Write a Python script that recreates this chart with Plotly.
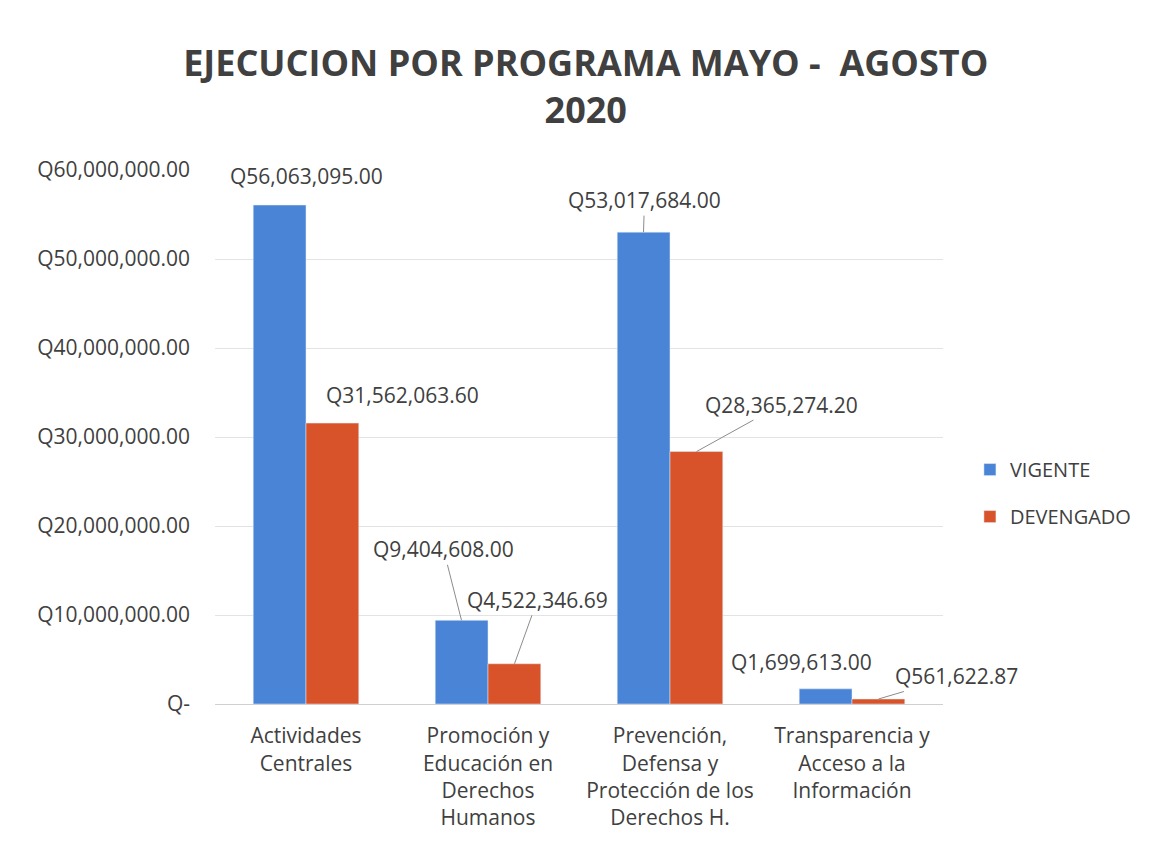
import plotly.graph_objects as go

categories = ["Actividades<br>Centrales",
              "Promoción y<br>Educación en<br>Derechos<br>Humanos",
              "Prevención,<br>Defensa y<br>Protección de los<br>Derechos H.",
              "Transparencia y<br>Acceso a la<br>Información"]
vigente = [56063095.00, 9404608.00, 53017684.00, 1699613.00]
devengado = [31562063.60, 4522346.69, 28365274.20, 561622.87]
ytick_vals = [0, 10e6, 20e6, 30e6, 40e6, 50e6, 60e6]
ytick_text = ["Q-", "Q10,000,000.00", "Q20,000,000.00", "Q30,000,000.00",
              "Q40,000,000.00", "Q50,000,000.00", "Q60,000,000.00"]

BLUE = "#4A84D6"
ORANGE = "#D9532A"
TXT = "#404040"
FONT = "Open Sans"

def qfmt(v):
    return "Q{:,.2f}".format(v)

fig = go.Figure()
fig.add_trace(go.Bar(x=categories, y=vigente, name="VIGENTE", marker_color=BLUE,
                     legendgroup="a"))
fig.add_trace(go.Bar(x=categories, y=devengado, name="DEVENGADO", marker_color=ORANGE,
                     legendgroup="b"))

# label offsets (pixels): (series, index, ax, ay, show leader)
label_specs = [
    (0, 0, 27, -29, False),
    (1, 0, 70, -28, False),
    (0, 1, -18, -71, True),
    (1, 1, 23, -64, True),
    (0, 2, 1, -32, True),
    (1, 2, 85, -47, True),
    (0, 3, -24, -27, False),
    (1, 3, 78, -23, True),
]
series = [vigente, devengado]
BARW = 26.5
for s, i, ax, ay, lead in label_specs:
    shift = -BARW if s == 0 else BARW
    fig.add_annotation(x=categories[i], y=series[s][i], xref="x", yref="y",
                       text=qfmt(series[s][i]), showarrow=lead,
                       ax=ax, ay=ay, arrowhead=0, arrowwidth=1, arrowcolor="#8C8C8C",
                       xshift=shift + (0 if lead else ax), yshift=(0 if lead else -ay),
                       font=dict(size=21, color=TXT, family=FONT))

fig.update_layout(
    width=1144, height=839,
    paper_bgcolor="white", plot_bgcolor="white",
    margin=dict(l=207, r=209, t=162, b=143, autoexpand=False),
    title=dict(text="<b>EJECUCION POR PROGRAMA MAYO -  AGOSTO<br>2020</b>",
               x=0.505, xanchor="center", y=0.919, yanchor="top",
               font=dict(size=36, color=TXT, family=FONT)),
    barmode="group", bargap=0.42, bargroupgap=0,
    font=dict(family=FONT, color=TXT, size=21),
    legend=dict(x=1.037, y=0.395, xanchor="left", yanchor="middle",
                font=dict(size=20, color=TXT, family=FONT), tracegroupgap=18,
                itemwidth=30),
    showlegend=True,
)
fig.update_yaxes(range=[0, 60e6], tickvals=ytick_vals, ticktext=ytick_text,
                 showgrid=True, gridcolor="#E3E3E3", zeroline=False,
                 tickfont=dict(size=21, color=TXT), ticks="", ticklen=0,
                 showline=False, ticklabelstandoff=24, automargin=False)
fig.update_xaxes(range=[-0.5, 3.5], showline=True, linecolor="#D0D0D0", linewidth=1,
                 tickfont=dict(size=21, color=TXT), ticks="", ticklabelstandoff=13,
                 automargin=False)

fig.write_html("out.html")
